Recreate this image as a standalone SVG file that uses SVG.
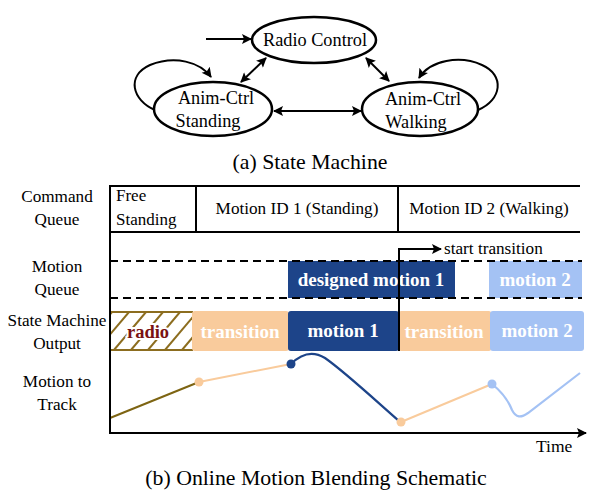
<svg xmlns="http://www.w3.org/2000/svg" width="590" height="494" viewBox="0 0 590 494">
<style>
text{font-family:"Liberation Serif","Times New Roman",serif;fill:#000}
.st{fill:#fff;stroke:#000;stroke-width:2.5}
.edge{fill:none;stroke:#000;stroke-width:2}
.lbl{font-size:18.3px;text-anchor:middle}
.row{font-size:17.2px;text-anchor:middle}
.bx{font-size:19px;font-weight:bold;fill:#fff;text-anchor:middle}
.frame{stroke:#000;stroke-width:2;fill:none}
.dash{stroke:#000;stroke-width:2;stroke-dasharray:8 5;fill:none}
.cap{font-size:21.8px;text-anchor:middle}
.radio{font-size:18.5px;font-weight:bold;text-anchor:middle;fill:#7a1212;stroke:#fff;stroke-width:4px;paint-order:stroke}
</style>
<defs>
<marker id="ah2" viewBox="0 0 10 10" refX="9" refY="5" markerWidth="12" markerHeight="10" orient="auto-start-reverse" markerUnits="userSpaceOnUse"><path d="M0,0 L10,5 L0,10 L2,5 z" fill="#000"/></marker>
<clipPath id="hc"><rect x="110" y="312" width="82" height="38"/></clipPath>
</defs>
<g id="connectors">
<line class="edge" x1="206" y1="39" x2="251" y2="39" marker-end="url(#ah2)"/>
<line class="edge" x1="266" y1="58" x2="241" y2="82" marker-start="url(#ah2)" marker-end="url(#ah2)"/>
<line class="edge" x1="366" y1="58" x2="389" y2="81" marker-start="url(#ah2)" marker-end="url(#ah2)"/>
<line class="edge" x1="274" y1="111" x2="361" y2="111" marker-start="url(#ah2)" marker-end="url(#ah2)"/>
<path class="edge" d="M155,110 C132,100 126,76 150,65 C175,55 200,62 211,77" marker-end="url(#ah2)"/>
<path class="edge" d="M478,110 C502,100 505,75 482,65 C460,55 430,60 419,78" marker-end="url(#ah2)"/>
</g>
<g id="radio-control">
<ellipse class="st" cx="314" cy="40" rx="62" ry="23"/>
<text class="lbl" x="315" y="46">Radio Control</text>
</g>
<g id="anim-standing">
<ellipse class="st" cx="213" cy="109" rx="59" ry="27"/>
<text class="lbl" x="216" y="104">Anim-Ctrl</text>
<text class="lbl" x="208" y="127">Standing</text>
</g>
<g id="anim-walking">
<ellipse class="st" cx="420" cy="109" rx="58" ry="27"/>
<text class="lbl" x="423" y="105">Anim-Ctrl</text>
<text class="lbl" x="416" y="128">Walking</text>
</g>
<text class="cap" x="310" y="169">(a) State Machine</text>

<g id="row-labels">
<text class="row" x="57" y="202">Command</text>
<text class="row" x="57" y="225">Queue</text>
<text class="row" x="57" y="272">Motion</text>
<text class="row" x="57" y="295">Queue</text>
<text class="row" x="57" y="326">State Machine</text>
<text class="row" x="57" y="349">Output</text>
<text class="row" x="57" y="387">Motion to</text>
<text class="row" x="57" y="410">Track</text>
</g>

<g id="command-queue">
<line class="frame" x1="110" y1="186" x2="580" y2="186"/>
<line class="frame" x1="110" y1="232" x2="580" y2="232"/>
<line class="frame" x1="196" y1="186" x2="196" y2="232"/>
<line class="frame" x1="398" y1="186" x2="398" y2="232"/>
<text x="116" y="201" font-size="17">Free</text>
<text x="116" y="225" font-size="17">Standing</text>
<text class="row" x="297" y="214" font-size="16.5">Motion ID 1 (Standing)</text>
<text class="row" x="489" y="214" font-size="16.5">Motion ID 2 (Walking)</text>
</g>

<g id="motion-queue">
<rect x="288" y="261" width="167" height="37" fill="#1d4489"/>
<rect x="489" y="261" width="93" height="37" fill="#a4c2f4"/>
<line class="dash" x1="110" y1="261" x2="582" y2="261"/>
<line class="dash" x1="110" y1="298" x2="582" y2="298"/>
<text class="bx" x="371" y="286">designed motion 1</text>
<text class="bx" x="535" y="286">motion 2</text>
</g>

<g id="sm-output">
<g clip-path="url(#hc)" stroke="#8c6d1f" stroke-width="2">
<line x1="80" y1="350" x2="112" y2="312"/>
<line x1="97" y1="350" x2="129" y2="312"/>
<line x1="114" y1="350" x2="146" y2="312"/>
<line x1="131" y1="350" x2="163" y2="312"/>
<line x1="148" y1="350" x2="180" y2="312"/>
<line x1="165" y1="350" x2="197" y2="312"/>
<line x1="182" y1="350" x2="214" y2="312"/>
</g>
<line x1="110" y1="312" x2="193" y2="312" stroke="#8c6d1f" stroke-width="2"/>
<line x1="110" y1="350" x2="193" y2="350" stroke="#8c6d1f" stroke-width="2"/>
<text class="radio" x="148" y="338">radio</text>
<rect x="192" y="311" width="97" height="40" rx="3" fill="#f9cb9c"/>
<rect x="288" y="311" width="111" height="40" rx="3" fill="#1d4489"/>
<rect x="399" y="311" width="92" height="40" rx="2" fill="#f9cb9c"/>
<rect x="490" y="311" width="94" height="40" rx="3" fill="#a4c2f4"/>
<text class="bx" x="240" y="338">transition</text>
<text class="bx" x="343" y="337">motion 1</text>
<text class="bx" x="444" y="338">transition</text>
<text class="bx" x="537" y="337">motion 2</text>
</g>

<g id="start-transition">
<polyline class="edge" points="399,351 399,249 441,249" marker-end="url(#ah2)"/>
<text x="444" y="254" font-size="17.2">start transition</text>
</g>

<g id="motion-track">
<line x1="110" y1="418" x2="199" y2="382" stroke="#7d6412" stroke-width="2"/>
<line x1="199" y1="382" x2="291" y2="364" stroke="#f9cb9c" stroke-width="2"/>
<path d="M291,364 C300,355 312,350 325,358 C345,372 375,400 399,421" fill="none" stroke="#1d4489" stroke-width="2.2"/>
<line x1="401" y1="422" x2="492" y2="384" stroke="#f9cb9c" stroke-width="2"/>
<path d="M492,384 C502,392 508,400 512,410 C516,418 521,418 528,413 L580,373" fill="none" stroke="#a4c2f4" stroke-width="2.2"/>
<circle cx="199" cy="382" r="4.5" fill="#f9cb9c"/>
<circle cx="291" cy="364" r="4.5" fill="#1d4489"/>
<circle cx="401" cy="422" r="4.5" fill="#f9cb9c"/>
<circle cx="492" cy="384" r="4.5" fill="#a4c2f4"/>
</g>

<g id="axes">
<line class="frame" x1="110" y1="185" x2="110" y2="434"/>
<line class="frame" x1="109" y1="433" x2="586" y2="433" marker-end="url(#ah2)"/>
<text x="536" y="452" font-size="17.5">Time</text>
</g>
<text class="cap" x="316" y="485">(b) Online Motion Blending Schematic</text>
</svg>
